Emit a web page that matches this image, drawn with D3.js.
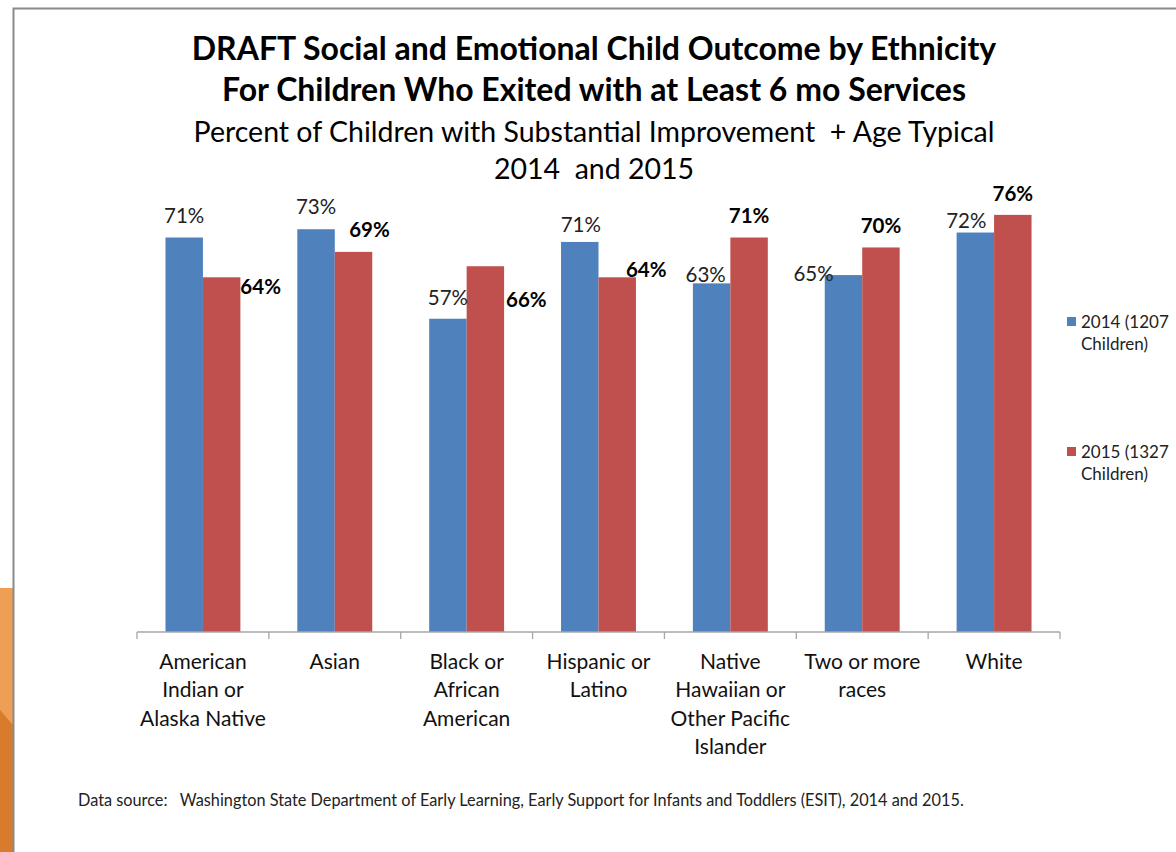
<!DOCTYPE html>
<html>
<head>
<meta charset="utf-8">
<script src="https://cdn.jsdelivr.net/npm/d3@7"></script>
<style>
  html, body { margin: 0; padding: 0; background: #fff; }
  svg { display: block; }
  text { white-space: pre; }
</style>
</head>
<body>
<script>
// chart data
const categories = [
  ['American', 'Indian or', 'Alaska Native'],
  ['Asian'],
  ['Black or', 'African', 'American'],
  ['Hispanic or', 'Latino'],
  ['Native', 'Hawaiian or', 'Other Pacific', 'Islander'],
  ['Two or more', 'races'],
  ['White']
];
const seriesNames = ['2014 (1207 Children)', '2015 (1327 Children)'];
const values2014 = [0.714, 0.729, 0.567, 0.706, 0.631, 0.646, 0.723];
const values2015 = [0.642, 0.688, 0.662, 0.642, 0.714, 0.696, 0.755];
const yTicks = [0, 0.8];

const titleLines = [
  'DRAFT Social and Emotional Child Outcome by Ethnicity',
  'For Children Who Exited with at Least 6 mo Services'
];
const subtitleLines = [
  'Percent of Children with Substantial Improvement  + Age Typical',
  '2014  and 2015'
];
const sourceNote = 'Data source:   Washington State Department of Early Learning, Early Support for Infants and Toddlers (ESIT), 2014 and 2015.';

// layout
const width = 1176, height = 852;
const colors = ['#4F81BD', '#C0504D'];
const font = 'Lato, "Open Sans", sans-serif';
// hand-placed label nudges (px from bar top centre), as in the original slide
const labelNudge = [
  [[0, -22], [39, 10]],
  [[0, -22], [16, -22]],
  [[0, -21], [41, 34]],
  [[1, -17], [29, -7]],
  [[-6, -9], [0, -22]],
  [[-30, -1], [0, -22]],
  [[-9, -12], [0, -21]]
];

const svg = d3.select('body').append('svg')
  .attr('width', width)
  .attr('height', height)
  .style('font-family', font);

svg.append('rect')
  .attr('width', width).attr('height', height)
  .attr('fill', '#fff');

// slide decoration at the left edge
svg.append('rect')
  .attr('x', 0).attr('y', 588).attr('width', 13).attr('height', height - 588)
  .attr('fill', '#EE9F55');
svg.append('path')
  .attr('d', `M0,710 L13,725 L13,${height} L0,${height} Z`)
  .attr('fill', '#D97B2C');

// chart frame
svg.append('rect')
  .attr('x', 13.5).attr('y', 8.5)
  .attr('width', width + 20).attr('height', height + 20)
  .attr('fill', 'none')
  .attr('stroke', '#8A8A8A')
  .attr('stroke-width', 2);

// titles
const cx = 594;
svg.append('g').selectAll('text')
  .data(titleLines)
  .join('text')
    .attr('x', cx)
    .attr('y', (d, i) => 60 + i * 41)
    .attr('text-anchor', 'middle')
    .attr('font-size', 32)
    .attr('font-weight', 'bold')
    .attr('fill', '#000')
    .text(d => d);

svg.append('g').selectAll('text')
  .data(subtitleLines)
  .join('text')
    .attr('x', cx)
    .attr('y', (d, i) => 142 + i * 37)
    .attr('text-anchor', 'middle')
    .attr('font-size', 28.5)
    .attr('fill', '#000')
    .text(d => d);

// scales
const x0 = d3.scaleBand()
  .domain(d3.range(categories.length))
  .range([137, 1060])
  .padding(0);

const x1 = d3.scaleBand()
  .domain([0, 1])
  .range([0, x0.bandwidth()])
  .paddingInner(0)
  .paddingOuter(0.76);

const y = d3.scaleLinear()
  .domain(yTicks)
  .range([632, 190]);

const fmt = d3.format('.0%');

// bars
const rows = categories.map((c, i) => ({ i, vals: [values2014[i], values2015[i]] }));

const groups = svg.append('g').selectAll('g')
  .data(rows)
  .join('g')
    .attr('transform', d => `translate(${x0(d.i)},0)`);

groups.selectAll('rect')
  .data(d => d.vals.map((v, s) => ({ v, s })))
  .join('rect')
    .attr('x', d => x1(d.s))
    .attr('y', d => y(d.v))
    .attr('width', x1.bandwidth())
    .attr('height', d => y(0) - y(d.v))
    .attr('fill', d => colors[d.s]);

// value labels
groups.selectAll('text')
  .data(d => d.vals.map((v, s) => ({ v, s, i: d.i })))
  .join('text')
    .attr('x', d => x1(d.s) + x1.bandwidth() / 2 + labelNudge[d.i][d.s][0])
    .attr('y', d => y(d.v) + labelNudge[d.i][d.s][1])
    .attr('dy', '0.35em')
    .attr('text-anchor', 'middle')
    .attr('font-size', 20.5)
    .attr('font-weight', d => d.s === 1 ? 'bold' : 'normal')
    .attr('fill', d => d.s === 1 ? '#000' : '#222')
    .text(d => fmt(d.v));

// x axis
const axis = svg.append('g')
  .attr('transform', `translate(0,${y(0)})`);

axis.append('line')
  .attr('x1', x0.range()[0]).attr('x2', x0.range()[1])
  .attr('stroke', '#A6A6A6').attr('stroke-width', 1.3);

axis.selectAll('line.tick')
  .data(d3.range(categories.length + 1))
  .join('line')
    .attr('class', 'tick')
    .attr('x1', i => x0.range()[0] + i * x0.step())
    .attr('x2', i => x0.range()[0] + i * x0.step())
    .attr('y1', 0).attr('y2', 7)
    .attr('stroke', '#A6A6A6').attr('stroke-width', 1.3);

const catLabels = axis.selectAll('text.cat')
  .data(categories)
  .join('text')
    .attr('class', 'cat')
    .attr('text-anchor', 'middle')
    .attr('font-size', 21)
    .attr('fill', '#111');

catLabels.selectAll('tspan')
  .data((d, i) => d.map(t => ({ t, i })))
  .join('tspan')
    .attr('x', d => x0(d.i) + x0.bandwidth() / 2)
    .attr('y', (d, k) => 37 + k * 28.4)
    .text(d => d.t);

// legend
const legend = svg.append('g')
  .attr('transform', 'translate(1067,317)');

const legItems = legend.selectAll('g')
  .data(seriesNames)
  .join('g')
    .attr('transform', (d, i) => `translate(0,${i * 130})`);

legItems.append('rect')
  .attr('width', 9).attr('height', 9)
  .attr('fill', (d, i) => colors[i]);

legItems.append('text')
  .attr('font-size', 17)
  .attr('fill', '#222')
  .selectAll('tspan')
  .data(d => {
    const k = d.indexOf(' Children');
    return [d.slice(0, k), d.slice(k + 1)];
  })
  .join('tspan')
    .attr('x', 14)
    .attr('y', (d, k) => 11 + k * 22)
    .text(d => d);

// source note
svg.append('text')
  .attr('x', 78)
  .attr('y', 806)
  .attr('font-size', 16.3)
  .attr('fill', '#222')
  .text(sourceNote);
</script>
</body>
</html>
